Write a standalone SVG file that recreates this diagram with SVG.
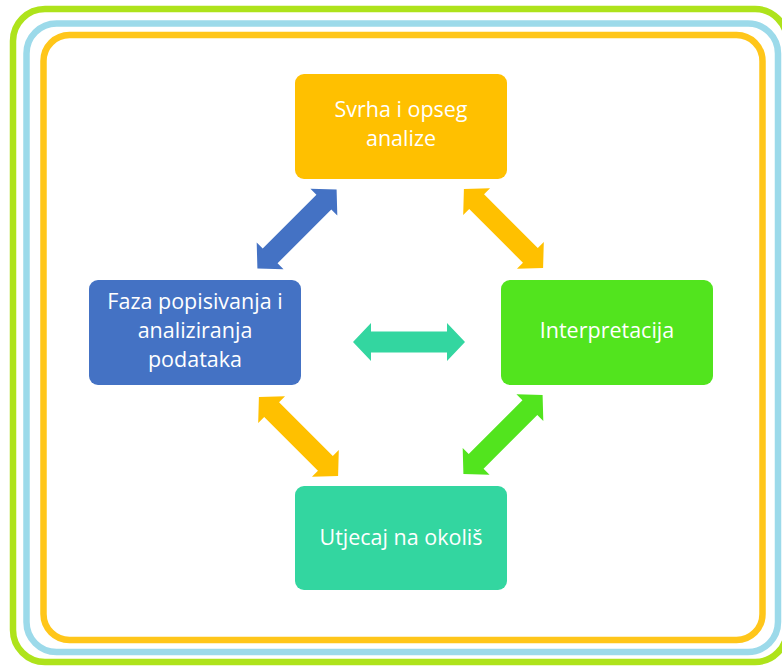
<svg xmlns="http://www.w3.org/2000/svg" width="782" height="666" viewBox="0 0 782 666">
<style>
.frame{fill:none;stroke-width:6.5}
.node{stroke:none}
.lbl{fill:#ffffff;font-family:"Open Sans","Liberation Sans",sans-serif;font-size:21.5px;text-anchor:middle}
</style>
<defs>
<path id="dbl" d="M-56,0 L-38,-19 L-38,-10.5 L38,-10.5 L38,-19 L56,0 L38,19 L38,10.5 L-38,10.5 L-38,19 Z"/>
</defs>
<rect width="782" height="666" fill="#ffffff"/>
<g id="frames">
<rect class="frame" x="13" y="9" width="774" height="653" rx="32" stroke="#AEE31B"/>
<rect class="frame" x="26.5" y="23.5" width="751.5" height="628.5" rx="30" stroke="#9CDAEA"/>
<rect class="frame" x="43.5" y="35" width="719" height="605" rx="26" stroke="#FFC61A"/>
</g>
<g id="connectors">
<use href="#dbl" transform="translate(297,229) rotate(-45)" fill="#4472C4"/>
<use href="#dbl" transform="translate(503.5,228.5) rotate(45)" fill="#FFC000"/>
<use href="#dbl" transform="translate(298.5,436.5) rotate(45)" fill="#FFC000"/>
<use href="#dbl" transform="translate(503,434.5) rotate(-45)" fill="#52E41E"/>
<use href="#dbl" transform="translate(409,342)" fill="#33D6A0"/>
</g>
<g id="node-top">
<rect class="node" x="295" y="74" width="212" height="105" rx="9" fill="#FFC000"/>
<text class="lbl" x="401" y="117">Svrha i opseg</text>
<text class="lbl" x="401" y="146">analize</text>
</g>
<g id="node-left">
<rect class="node" x="89" y="280" width="212" height="105" rx="9" fill="#4472C4"/>
<text class="lbl" x="195" y="309">Faza popisivanja i</text>
<text class="lbl" x="195" y="338">analiziranja</text>
<text class="lbl" x="195" y="367">podataka</text>
</g>
<g id="node-right">
<rect class="node" x="501" y="280" width="212" height="105" rx="9" fill="#52E41E"/>
<text class="lbl" x="607" y="338">Interpretacija</text>
</g>
<g id="node-bottom">
<rect class="node" x="295" y="486" width="212" height="104" rx="9" fill="#33D6A0"/>
<text class="lbl" x="401" y="545">Utjecaj na okoliš</text>
</g>
</svg>
